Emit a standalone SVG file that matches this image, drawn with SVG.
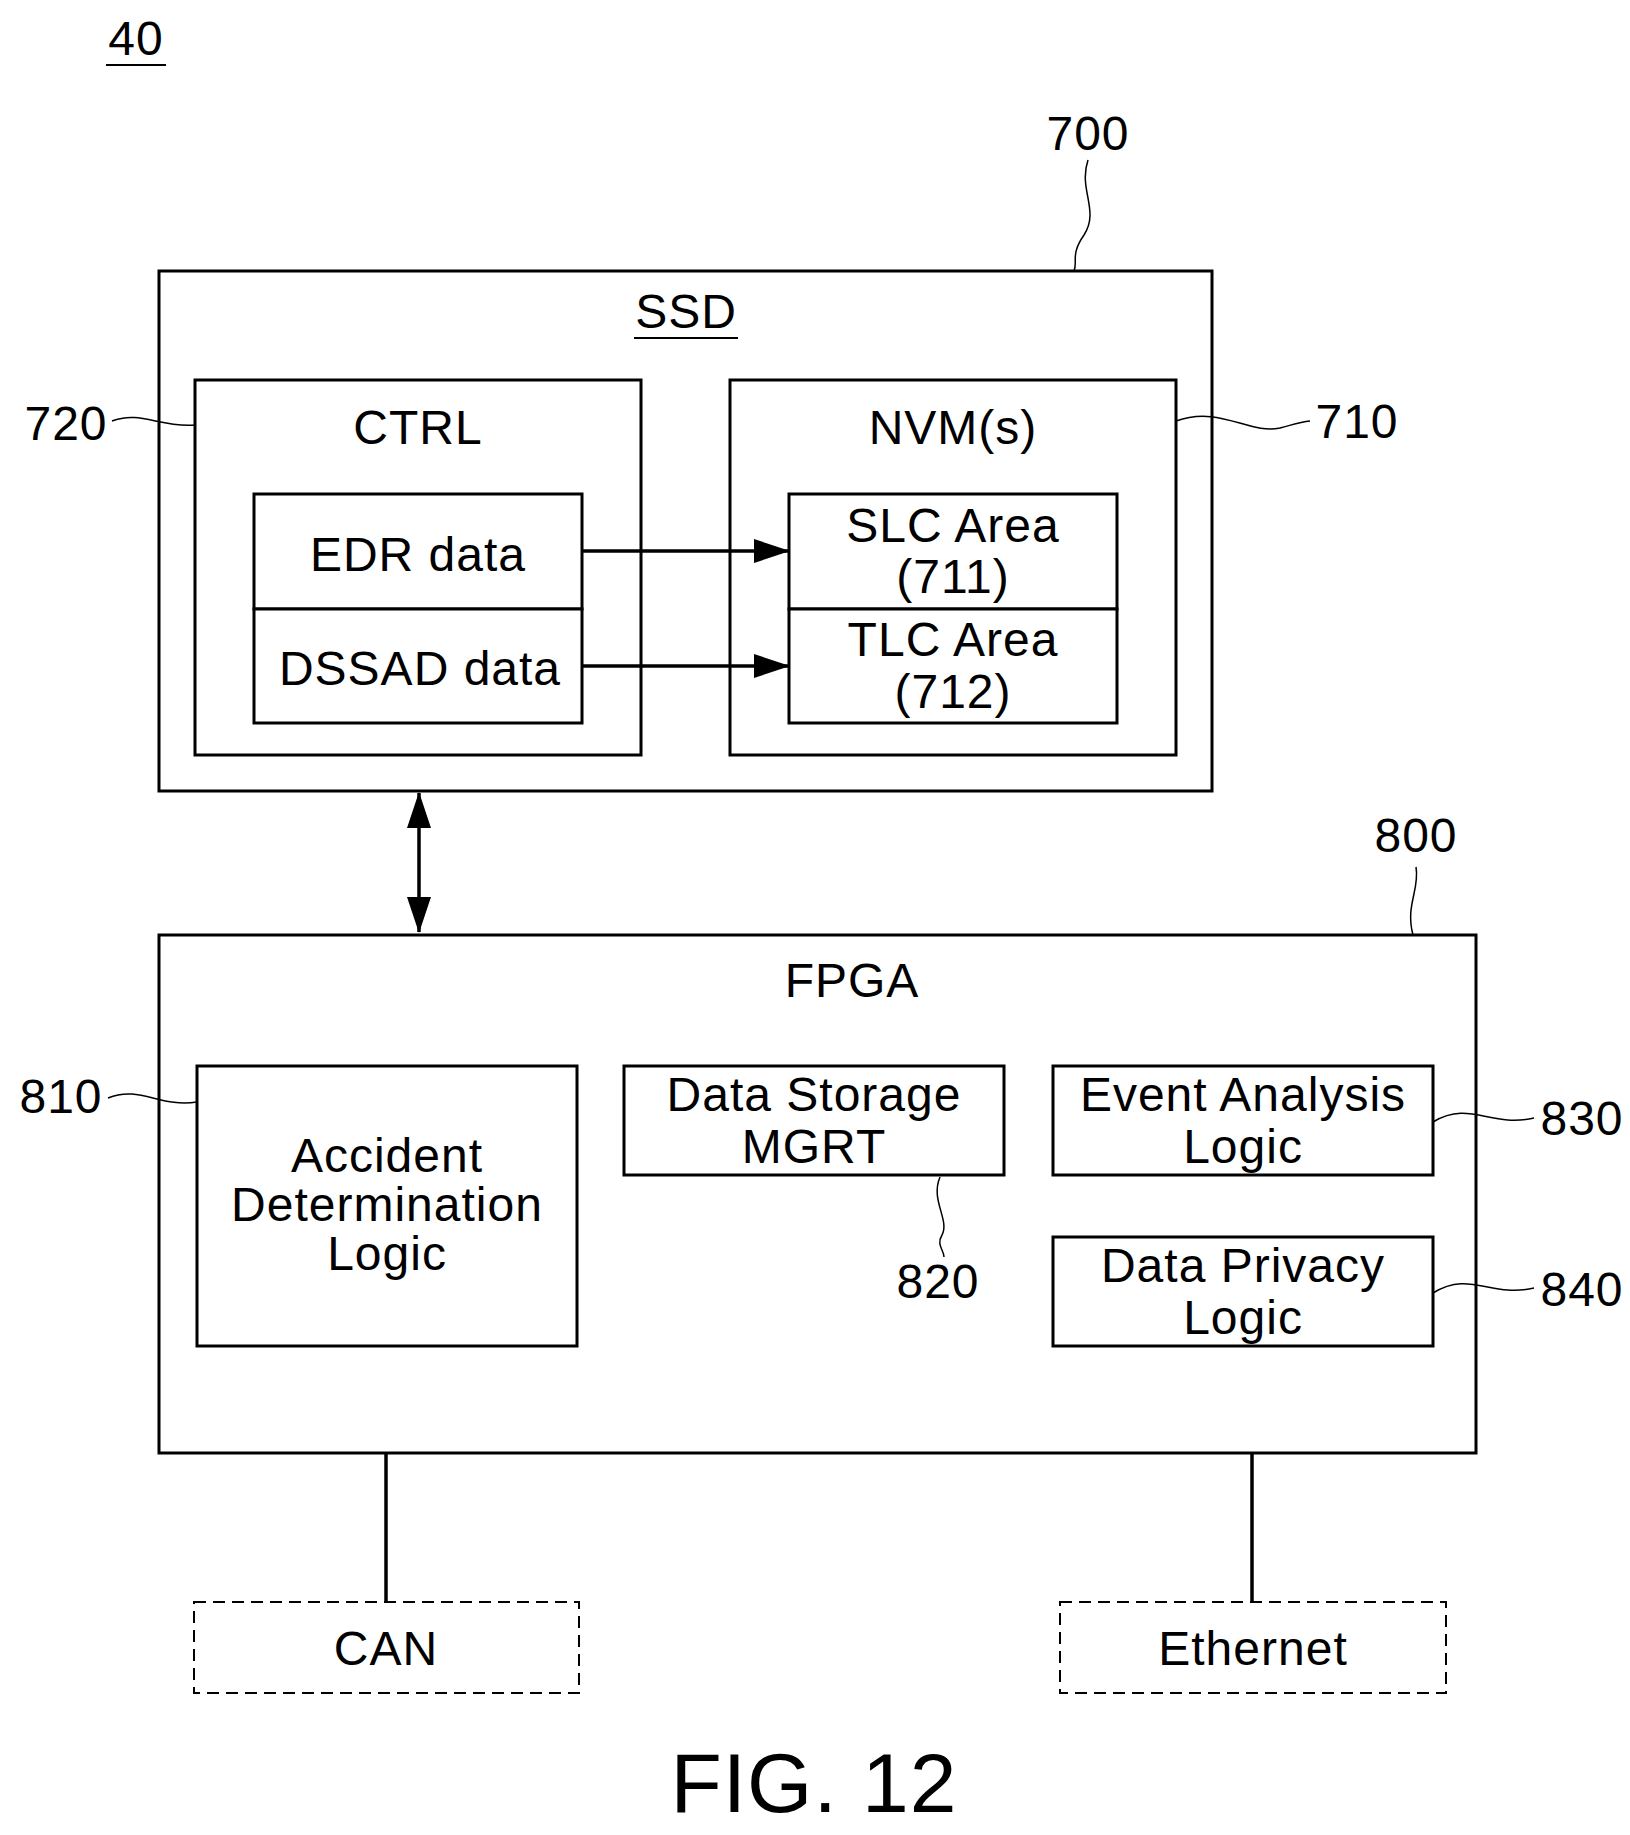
<svg xmlns="http://www.w3.org/2000/svg" width="1630" height="1835" viewBox="0 0 1630 1835">
<style>
.b{fill:#fff;stroke:#000;stroke-width:3}
.d{fill:#fff;stroke:#000;stroke-width:2;stroke-dasharray:12 7}
text{font-family:"Liberation Sans",Arial,sans-serif;font-size:48px;text-anchor:middle;fill:#000;letter-spacing:1px}
.l{fill:none;stroke:#000;stroke-width:1.5}
.c{stroke:#000;stroke-width:3.5;fill:none}
</style>
<defs>
<marker id="a2" markerWidth="36" markerHeight="24" refX="35" refY="12" orient="auto-start-reverse" markerUnits="userSpaceOnUse" viewBox="0 0 36 24"><path d="M0,0L36,12L0,24z"/></marker></defs>
<text x="136" y="55">40</text><line x1="106" y1="65" x2="166" y2="65" stroke="#000" stroke-width="2"/>
<g id="n700"><rect class="b" x="159" y="271" width="1053" height="520"/><text x="686" y="328">SSD</text><line x1="634" y1="338" x2="738" y2="338" stroke="#000" stroke-width="2"/>
<text x="1088" y="150">700</text><path class="l" d="M1088,160 C1078,190 1100,210 1084,235 C1070,255 1078,262 1074,271"/></g>
<g id="n720"><rect class="b" x="195" y="380" width="446" height="375"/><text x="418" y="444">CTRL</text>
<text x="66" y="440">720</text><path class="l" d="M112,421 C140,410 160,428 195,425"/></g>
<g id="edr"><rect class="b" x="254" y="494" width="328" height="115"/><text x="418" y="571">EDR data</text></g>
<g id="dssad"><rect class="b" x="254" y="609" width="328" height="114"/><text x="420" y="685">DSSAD data</text></g>
<g id="n710"><rect class="b" x="730" y="380" width="446" height="375"/><text x="953" y="444">NVM(s)</text>
<text x="1357" y="438">710</text><path class="l" d="M1176,421 C1220,405 1250,435 1280,428 C1295,424 1300,422 1310,421"/></g>
<g id="slc"><rect class="b" x="789" y="494" width="328" height="115"/><text x="953" y="542">SLC Area</text><text x="953" y="593">(711)</text></g>
<g id="tlc"><rect class="b" x="789" y="609" width="328" height="114"/><text x="953" y="656">TLC Area</text><text x="953" y="708">(712)</text></g>
<g id="n800"><rect class="b" x="159" y="935" width="1317" height="518"/><text x="852" y="997">FPGA</text>
<text x="1416" y="852">800</text><path class="l" d="M1416,867 C1420,890 1405,905 1413,935"/></g>
<g id="n810"><rect class="b" x="197" y="1066" width="380" height="280"/><text x="387" y="1172">Accident</text><text x="387" y="1221">Determination</text><text x="387" y="1270">Logic</text>
<text x="61" y="1113">810</text><path class="l" d="M108,1098 C140,1085 160,1108 197,1102"/></g>
<g id="n820"><rect class="b" x="624" y="1066" width="380" height="109"/><text x="814" y="1111">Data Storage</text><text x="814" y="1163">MGRT</text>
<text x="938" y="1298">820</text><path class="l" d="M940,1177 C930,1200 950,1220 942,1235 C936,1245 944,1250 944,1257"/></g>
<g id="n830"><rect class="b" x="1053" y="1066" width="380" height="109"/><text x="1243" y="1111">Event Analysis</text><text x="1243" y="1163">Logic</text>
<text x="1582" y="1135">830</text><path class="l" d="M1433,1122 C1470,1100 1490,1128 1534,1118"/></g>
<g id="n840"><rect class="b" x="1053" y="1237" width="380" height="109"/><text x="1243" y="1282">Data Privacy</text><text x="1243" y="1334">Logic</text>
<text x="1582" y="1306">840</text><path class="l" d="M1433,1293 C1470,1270 1490,1298 1534,1288"/></g>
<g id="can"><rect class="d" x="194" y="1602" width="385" height="91"/><text x="386" y="1665">CAN</text></g>
<g id="eth"><rect class="d" x="1060" y="1602" width="386" height="91"/><text x="1253" y="1665">Ethernet</text></g>
<g id="connectors">
<line class="c" x1="582" y1="551" x2="789" y2="551" stroke-width="2" marker-end="url(#a2)"/>
<line class="c" x1="582" y1="666" x2="789" y2="666" marker-end="url(#a2)"/>
<line class="c" x1="419" y1="793" x2="419" y2="932" marker-start="url(#a2)" marker-end="url(#a2)"/>
<line class="c" x1="386" y1="1453" x2="386" y2="1602"/>
<line class="c" x1="1252" y1="1453" x2="1252" y2="1602"/>
</g>
<text x="814" y="1812" style="font-size:84px">FIG. 12</text>
</svg>
